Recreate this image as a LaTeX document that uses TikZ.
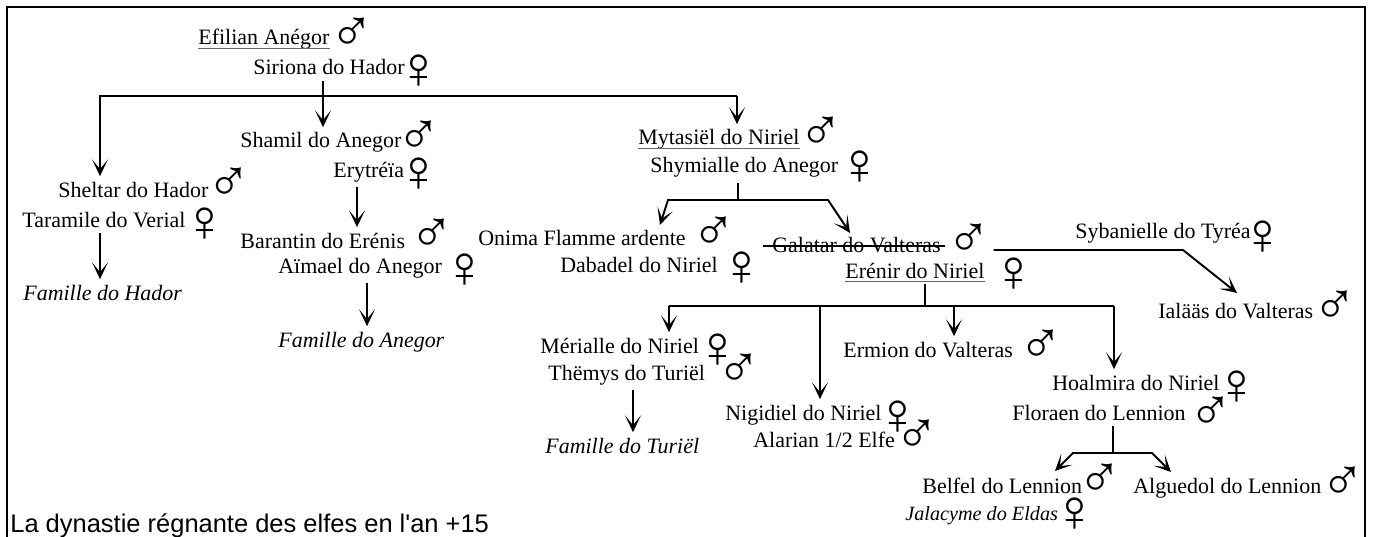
\documentclass[tikz,border=0pt]{standalone}
\usepackage{fontspec}
\usepackage{tikz}
\usetikzlibrary{arrows.meta}
\setmainfont{Liberation Serif}
\newfontfamily\symfont{Liberation Serif}
\newfontfamily\capfont{Liberation Sans}

\newcommand{\male}{\symfont\char"2642}
\newcommand{\female}{\symfont\char"2640}

\tikzset{
  pers/.style={anchor=base west, inner xsep=0pt, inner ysep=3pt, font=\fontsize{12.5}{15}\selectfont},
  fam/.style={pers, font=\fontsize{12.5}{15}\selectfont\itshape},
  sym/.style={inner sep=0pt, font=\fontsize{34}{36}\selectfont},
  lnk/.style={line width=1.1pt},
  arr/.style={lnk, -{Stealth[length=9.5pt,width=9pt,inset=5.5pt]}},
  ul/.style={line width=0.6pt, black!60},
}

\begin{document}
\begin{tikzpicture}[x=0.02cm, y=-0.02cm]
        \useasboundingbox (0,0) rectangle (1373,537);
        \clip (0,0) rectangle (1373,537);

        % Frame
        \draw[line width=1.5pt] (7,560) -- (7,7) -- (1365,7) -- (1365,560);

        % First couple
        \node[pers] (efilian) at (198,45) {Efilian Anégor};
        \node[sym] (efilian-s) at (352,35) {\male};
        \node[pers] (siriona) at (253,75) {Siriona do Hador};
        \node[sym] (siriona-s) at (419,72) {\female};

        % Their children
        \node[pers] (sheltar) at (58,197) {Sheltar do Hador};
        \node[sym] (sheltar-s) at (229,185) {\male};
        \node[pers] (taramile) at (22,227) {Taramile do Verial};
        \node[sym] (taramile-s) at (205,225) {\female};
        \node[fam] (fam-hador) at (23,300) {Famille do Hador};

        \node[pers] (shamil) at (240,148) {Shamil do Anegor};
        \node[sym] (shamil-s) at (419,138) {\male};
        \node[pers] (erytreia) at (333,177) {Erytréïa};
        \node[sym] (erytreia-s) at (419,175) {\female};
        \node[pers] (barantin) at (240,248) {Barantin do Erénis};
        \node[sym] (barantin-s) at (432,236) {\male};
        \node[pers] (aimael) at (278,273) {Aïmael do Anegor};
        \node[sym] (aimael-s) at (465,271) {\female};
        \node[fam] (fam-anegor) at (278,347) {Famille do Anegor};

        \node[pers] (mytasiel) at (638,145) {Mytasiël do Niriel};
        \node[sym] (mytasiel-s) at (821,134) {\male};
        \node[pers] (shymialle) at (650,173) {Shymialle do Anegor};
        \node[sym] (shymialle-s) at (860,168) {\female};

        % Grandchildren
        \node[pers] (onima) at (478,245) {Onima Flamme ardente};
        \node[sym] (onima-s) at (714,234) {\male};
        \node[pers] (dabadel) at (560,272) {Dabadel do Niriel};
        \node[sym] (dabadel-s) at (742,269) {\female};

        \node[pers] (galatar) at (772,252) {Galatar do Valteras};
        \node[sym] (galatar-s) at (969,241) {\male};
        \node[pers] (erenir) at (845,278) {Erénir do Niriel};
        \node[sym] (erenir-s) at (1014,275) {\female};

        \node[pers] (sybanielle) at (1075,238) {Sybanielle do Tyréa};
        \node[sym] (sybanielle-s) at (1263,238) {\female};
        \node[pers] (ialaas) at (1158,318) {Ialääs do Valteras};
        \node[sym] (ialaas-s) at (1335,308) {\male};

        % Great-grandchildren
        \node[pers] (merialle) at (540,353) {Mérialle do Niriel};
        \node[sym] (merialle-s) at (718,351) {\female};
        \node[pers] (themys) at (548,380) {Thëmys do Turiël};
        \node[sym] (themys-s) at (739,371) {\male};
        \node[fam] (fam-turiel) at (545,453) {Famille do Turiël};

        \node[pers] (nigidiel) at (725,420) {Nigidiel do Niriel};
        \node[sym] (nigidiel-s) at (898,418) {\female};
        \node[pers] (alarian) at (753,447) {Alarian 1/2 Elfe};
        \node[sym] (alarian-s) at (917,437) {\male};

        \node[pers] (ermion) at (843,357) {Ermion do Valteras};
        \node[sym] (ermion-s) at (1041,347) {\male};

        \node[pers] (hoalmira) at (1052,390) {Hoalmira do Niriel};
        \node[sym] (hoalmira-s) at (1237,388) {\female};
        \node[pers] (floraen) at (1012,420) {Floraen do Lennion};
        \node[sym] (floraen-s) at (1211,414) {\male};

        \node[pers] (belfel) at (922,493) {Belfel do Lennion};
        \node[sym] (belfel-s) at (1100,481) {\male};
        \node[pers] (alguedol) at (1133,493) {Alguedol do Lennion};
        \node[sym] (alguedol-s) at (1343,484) {\male};
        \node[fam, font=\fontsize{11.5}{14}\selectfont\itshape] (jalacyme) at (905,520) {Jalacyme do Eldas};
        \node[sym] (jalacyme-s) at (1075,515) {\female};

        \node[anchor=base west, inner sep=0pt, font=\capfont\fontsize{14.5}{17}\selectfont]
          (caption) at (10,532) {La dynastie régnante des elfes en l'an +15};

        % Underlined and struck names
        \draw[ul] ([yshift=-2pt]efilian.base west) -- ([yshift=-2pt]efilian.base east);
        \draw[ul] ([yshift=-2pt]mytasiel.base west) -- ([yshift=-2pt]mytasiel.base east);
        \draw[ul] ([yshift=-2pt]erenir.base west) -- ([yshift=-2pt]erenir.base east);
        \draw[lnk] ([xshift=-5pt,yshift=3.4pt]galatar.base west) -- ([xshift=2pt,yshift=3.4pt]galatar.base east);

        % Junctions and arrow ends
        \coordinate (j1) at (323,96);
        \coordinate (b1l) at (100,96);
        \coordinate (b1r) at (737,96);
        \coordinate (c-erenis) at (357,200);
        \coordinate (c-anegor) at (367,300);
        \coordinate (j2) at (738,200);
        \coordinate (j2l) at (668,200);
        \coordinate (j2r) at (828,200);
        \coordinate (onima-in) at (660,225);
        \coordinate (galatar-in) at (850,233);
        \coordinate (g1) at (1183,250);
        \coordinate (ialaas-in) at (1237,293);
        \coordinate (j3) at (925,306);
        \coordinate (b3a) at (669,306);
        \coordinate (b3b) at (820,306);
        \coordinate (b3c) at (954,306);
        \coordinate (b3d) at (1114,306);
        \coordinate (c-turiel) at (633,400);
        \coordinate (j4) at (1113,453);
        \coordinate (j4l) at (1073,453);
        \coordinate (j4r) at (1152,453);
        \coordinate (belfel-in) at (1055,471);
        \coordinate (alguedol-in) at (1171,472);

        % Efilian and Siriona
        \draw[arr] (siriona.south -| j1) -- (shamil.north -| j1);
        \draw[arr] (b1r) -- (b1l) -- (sheltar.north -| b1l);
        \draw[arr] (b1r) -- (mytasiel.north -| b1r);
        \draw[arr] (taramile.south -| b1l) -- (fam-hador.north -| b1l);
        \draw[arr] (erytreia.south -| c-erenis) -- (barantin.north -| c-erenis);
        \draw[arr] (aimael.south -| c-anegor) -- (fam-anegor.north -| c-anegor);

        % Mytasiel and Shymialle
        \draw[lnk] (shymialle.south -| j2) -- (j2);
        \draw[arr] (j2) -- (j2l) -- (onima-in);
        \draw[arr] (j2) -- (j2r) -- (galatar-in);

        % Galatar and Sybanielle
        \draw[arr] ([xshift=1pt]galatar-s.east |- g1) -- (g1) -- (ialaas-in);

        % Galatar and Erenir
        \draw[lnk] (erenir.south -| j3) -- (j3);
        \draw[lnk] (b3a) -- (b3d);
        \draw[arr] (b3a) -- (merialle.north -| b3a);
        \draw[arr] (b3b) -- (nigidiel.north -| b3b);
        \draw[arr] (b3c) -- (ermion.north -| b3c);
        \draw[arr] (b3d) -- (hoalmira.north -| b3d);
        \draw[arr] (themys.south -| c-turiel) -- (fam-turiel.north -| c-turiel);

        % Hoalmira and Floraen
        \draw[lnk] (floraen.south -| j4) -- (j4);
        \draw[arr] (j4) -- (j4l) -- (belfel-in);
        \draw[arr] (j4) -- (j4r) -- (alguedol-in);
\end{tikzpicture}
\end{document}
